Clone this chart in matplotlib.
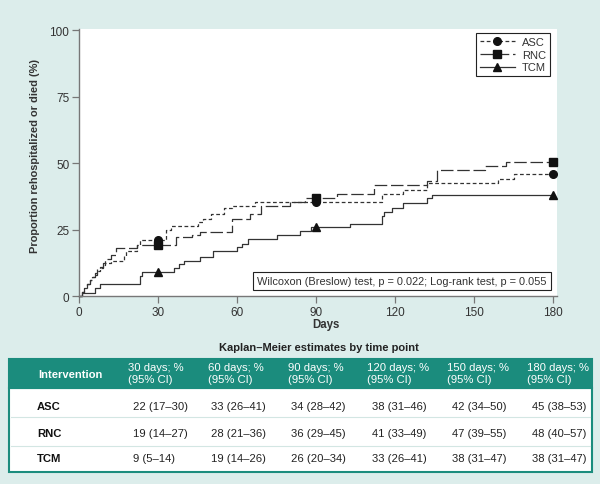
import numpy as np
import matplotlib
matplotlib.use("Agg")
import matplotlib.pyplot as plt
from matplotlib.lines import Line2D
from matplotlib.patches import Rectangle

plt.rcParams["font.family"] = ["Liberation Sans", "DejaVu Sans"]

# ---------------------------------------------------------------------------
# Kaplan-Meier step curves (day, cumulative % rehospitalized or died)
# ---------------------------------------------------------------------------
asc_days = [0, 1, 2, 3, 4, 5, 6, 7, 8, 9, 10, 12, 17, 18, 22, 23, 33, 35,
            45, 47, 50, 55, 58, 67, 115, 123, 132, 159, 165, 180]
asc_pct = [0, 1.5, 3, 4.5, 6, 7, 8, 9.5, 10.5, 11.5, 12.5, 13, 15, 17, 19, 21, 25, 26.5,
           28, 29, 31, 33, 34, 35.3, 38.5, 40, 42.5, 44, 46, 46]

rnc_days = [0, 1, 2, 3, 4, 5, 6, 7, 8, 9, 10, 12, 14, 22, 37, 43, 46, 58, 65, 69,
            80, 86, 98, 112, 132, 136, 154, 162, 180]
rnc_pct = [0, 1.5, 3, 4.5, 6, 7, 8.5, 10, 11, 12.5, 14, 15.5, 18, 19, 22, 23, 24, 29, 31, 34,
           35.5, 37, 38.3, 41.7, 43.3, 47.4, 49, 50.5, 50.5]

tcm_days = [0, 1, 6, 8, 23, 24, 36, 38, 40, 46, 51, 60, 62, 64, 75, 84, 88, 103,
            115, 116, 119, 123, 132, 134, 180]
tcm_pct = [0, 1.3, 3, 4.5, 7.5, 9, 10.5, 12, 13, 14.5, 17, 18.5, 19.5, 21.5, 23, 24.5, 26, 27,
           30, 31.5, 33, 35, 37, 38, 38]

mark_days = [30, 90, 180]

x_ticks = [0, 30, 60, 90, 120, 150, 180]
y_ticks = [0, 25, 50, 75, 100]

# ---------------------------------------------------------------------------
# Table: KM estimates by time point
# ---------------------------------------------------------------------------
time_points = [30, 60, 90, 120, 150, 180]
groups = ["ASC", "RNC", "TCM"]
asc_est = [22, 33, 34, 38, 42, 45]
asc_lo = [17, 26, 28, 31, 34, 38]
asc_hi = [30, 41, 42, 46, 50, 53]
rnc_est = [19, 28, 36, 41, 47, 48]
rnc_lo = [14, 21, 29, 33, 39, 40]
rnc_hi = [27, 36, 45, 49, 55, 57]
tcm_est = [9, 19, 26, 33, 38, 38]
tcm_lo = [5, 14, 20, 26, 31, 31]
tcm_hi = [14, 26, 34, 41, 47, 47]

BG = "#dcedeb"
TEAL = "#1b8c7d"
INK = "#333333"
GRAY = "#777777"

fig = plt.figure(figsize=(6, 4.85), dpi=100, facecolor=BG)

# ── KM plot ────────────────────────────────────────────────────────────────
ax = fig.add_axes([79 / 600, 188 / 485, 478 / 600, 267 / 485])
ax.set_facecolor("white")
ax.set_xlim(0, 181.5)
ax.set_ylim(0, 100.4)

styles = [
    ("ASC", asc_days, asc_pct, "o", (0, (3, 2))),
    ("RNC", rnc_days, rnc_pct, "s", (0, (10, 3))),
    ("TCM", tcm_days, tcm_pct, "^", "-"),
]
handles = []
for name, d, p, mk, ls in styles:
    ax.step(d, p, where="post", color=INK, lw=0.9, linestyle=ls, clip_on=False)
    idx = np.searchsorted(d, mark_days, side="right") - 1
    ax.plot(mark_days, np.asarray(p)[idx], linestyle="none", marker=mk,
            ms=5.5, color="#111111", clip_on=False, zorder=5)
    handles.append(Line2D([], [], color=INK, lw=0.9, linestyle=ls, marker=mk,
                          ms=5.5, markerfacecolor="#111111", markeredgecolor="#111111",
                          label=name))

for s in ("top", "right"):
    ax.spines[s].set_visible(False)
for s in ("left", "bottom"):
    ax.spines[s].set_color(GRAY)
    ax.spines[s].set_linewidth(1.0)
ax.set_xticks(x_ticks)
ax.set_yticks(y_ticks)
ax.tick_params(direction="out", length=5, width=0.9, color=GRAY,
               labelcolor=INK, labelsize=8.5, pad=2)

leg = ax.legend(handles=handles, loc="upper right", bbox_to_anchor=(0.985, 0.985),
                borderaxespad=0, fancybox=False, edgecolor="#222222", framealpha=1,
                fontsize=8, handlelength=3.2, handletextpad=0.6,
                borderpad=0.35, labelspacing=0.25, markerfirst=True)
leg.get_frame().set_linewidth(0.8)
for t in leg.get_texts():
    t.set_color(INK)

ax.text((402 - 79) / 478, (297 - 282) / 267,
        "Wilcoxon (Breslow) test, p = 0.022; Log-rank test, p = 0.055",
        transform=ax.transAxes, ha="center", va="center", fontsize=7.9, color=INK,
        bbox=dict(boxstyle="square,pad=0.4", fc="white", ec="#222222", lw=0.8))

fig.text(35 / 600, (485 - 156) / 485, "Proportion rehospitalized or died (%)",
         rotation=90, ha="center", va="center", fontsize=7.9, fontweight="bold", color=INK)
fig.text(326 / 600, (485 - 325) / 485, "Days", ha="center", va="center",
         fontsize=8.3, fontweight="bold", color=INK)

# ── Table ──────────────────────────────────────────────────────────────────
tab = fig.add_axes([0, 0, 1, 1], zorder=-1)
tab.set_xlim(0, 600)
tab.set_ylim(485, 0)
tab.axis("off")

tab.text(319, 348, "Kaplan\u2013Meier estimates by time point", ha="center", va="center",
         fontsize=8, fontweight="bold", color="#222222")
tab.add_patch(Rectangle((9, 389), 583, 84, fc="white", ec=TEAL, lw=1.5))
tab.add_patch(Rectangle((9, 360), 583, 29, fc=TEAL, ec=TEAL, lw=1.5))
for ysep in (418, 447):
    tab.plot([11, 590], [ysep, ysep], color="#d3e6e3", lw=0.8)

col_x = [128, 208, 288, 367, 447, 527]
data_x = [133, 211, 291, 372, 452, 532]
row_y = [407, 434, 459]

tab.text(70, 375, "Intervention", ha="center", va="center", fontsize=8.1,
         fontweight="bold", color="white")
for x, tp in zip(col_x, time_points):
    tab.text(x, 374, f"{tp} days; %\n(95% CI)", ha="left", va="center",
             fontsize=8.1, color="white", linespacing=1.15)

rows = [(asc_est, asc_lo, asc_hi), (rnc_est, rnc_lo, rnc_hi), (tcm_est, tcm_lo, tcm_hi)]
for y, g, (est, lo, hi) in zip(row_y, groups, rows):
    tab.text(37, y, g, ha="left", va="center", fontsize=8.1, fontweight="bold", color="#111111")
    for x, e, l, h in zip(data_x, est, lo, hi):
        tab.text(x, y, f"{e} ({l}\u2013{h})", ha="left", va="center",
                 fontsize=8.1, color="#222222")

fig.savefig("out.png", dpi=100, facecolor=fig.get_facecolor())
